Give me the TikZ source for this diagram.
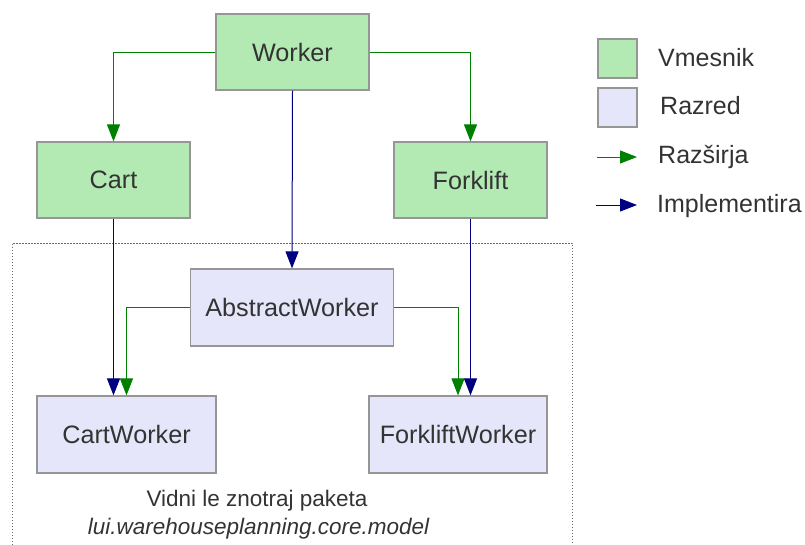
\documentclass[tikz,border=0pt]{standalone}
\usepackage{fontspec}
\setmainfont{Liberation Sans}
\usetikzlibrary{arrows.meta}
\definecolor{ifacefill}{RGB}{179,234,179}
\definecolor{classfill}{RGB}{230,230,250}
\definecolor{boxline}{RGB}{150,150,150}
\definecolor{txt}{RGB}{51,51,51}
\definecolor{extcol}{RGB}{0,128,0}
\definecolor{implcol}{RGB}{0,0,128}
\tikzset{
  box/.style={draw=boxline, line width=1.2pt, text=txt, font=\fontsize{25.2}{29}\selectfont, inner sep=0pt, anchor=center},
  iface/.style={box, fill=ifacefill},
  klass/.style={box, fill=classfill},
  extends/.style={draw=extcol, line width=1pt, -{Triangle[length=17pt,width=13pt]}, extcol},
  implements/.style={draw=implcol, line width=1pt, -{Triangle[length=17pt,width=13pt]}, implcol},
  legtext/.style={text=txt, font=\fontsize{25}{29}\selectfont, anchor=west, inner sep=0pt},
  captext/.style={text=txt, font=\fontsize{22.5}{26}\selectfont, inner sep=0pt}
}
\begin{document}
\begin{tikzpicture}[x=1pt,y=-1pt]
\useasboundingbox (0,0) rectangle (805,544);
% package boundary
\draw[boxline!70!black, line width=1pt, dash pattern=on 1.5pt off 1.5pt] (12,560) -- (12,243) -- (572.5,243) -- (572.5,560);
% interfaces
\node[iface, minimum width=153pt, minimum height=76pt] (worker) at (292.5,52) {Worker};
\node[iface, minimum width=153pt, minimum height=76pt] (cart) at (113.5,180) {Cart};
\node[iface, minimum width=153pt, minimum height=76pt] (forklift) at (470.5,180) {Forklift};
% classes
\node[klass, minimum width=203pt, minimum height=77pt] (abstract) at (292,307.5) {AbstractWorker};
\node[klass, minimum width=179pt, minimum height=77pt] (cartw) at (126.5,434.5) {CartWorker};
\node[klass, minimum width=178pt, minimum height=77pt] (forkw) at (458,434.5) {ForkliftWorker};
% relations
\draw[extends] (worker.west) -| (cart.north);
\draw[extends] (worker.east) -| (forklift.north);
\draw[implements] (worker.south) -- (abstract.north);
\draw[implements] (cart.south) -- (cart.south |- cartw.north);
\draw[extends] (abstract.west) -| (cartw.north);
\draw[implements] (forklift.south) -- (forklift.south |- forkw.north);
\draw[extends] (abstract.east) -| (forkw.north);
% caption
\node[captext] (cap1) at (257,501) {Vidni le znotraj paketa};
\node[captext] (cap2) at (258.5,529) {\itshape lui.warehouseplanning.core.model};
% legend
\node[iface, minimum width=39pt, minimum height=39pt] (lgI) at (617.5,58.5) {};
\node[klass, minimum width=39pt, minimum height=39pt] (lgC) at (617.5,107.5) {};
\node[legtext] (lgIt) at (658,58) {Vmesnik};
\node[legtext] (lgCt) at (660,106) {Razred};
\node[legtext] (lgEt) at (658,157) {Razširja};
\node[legtext] (lgMt) at (657,206) {Implementira};
\coordinate (e0) at (597,157);
\coordinate (e1) at (637,157);
\coordinate (m0) at (596,205);
\coordinate (m1) at (637,205);
\draw[extends] (e0) -- (e1);
\draw[implements] (m0) -- (m1);
\end{tikzpicture}
\end{document}
